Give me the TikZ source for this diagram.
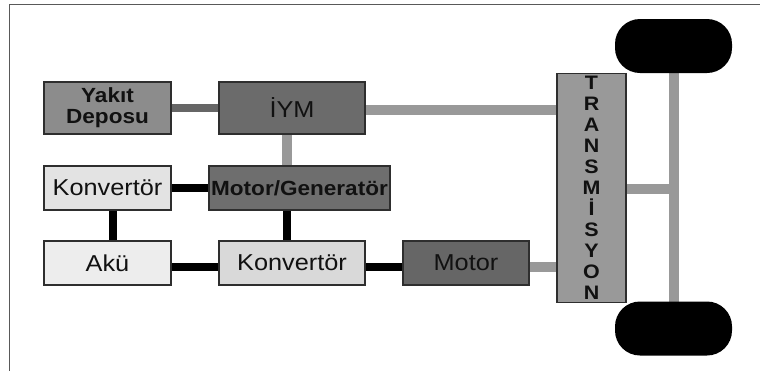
\documentclass[tikz,border=0pt]{standalone}
\usepackage{fontspec}
\setmainfont{Liberation Sans}[FakeStretch=1.1]
\usetikzlibrary{backgrounds}
\definecolor{lblk}{HTML}{111111}
\definecolor{edge}{HTML}{2E2E2E}
\definecolor{shaftgray}{HTML}{999999}
\definecolor{feedgray}{HTML}{666666}
\tikzset{
  unit/.style={draw=edge, line width=1.1pt, rectangle, inner sep=0pt, outer sep=0pt,
    text=lblk, align=center},
  wide/.style={unit, minimum width=146pt, minimum height=52pt},
  narrow/.style={unit, minimum width=127pt, minimum height=52pt},
  low/.style={minimum height=44pt},
  plain/.style={font=\fontsize{23}{26}\selectfont},
  heavy/.style={font=\bfseries\fontsize{20.5}{24}\selectfont},
  mech/.style={draw=shaftgray, line width=9.5pt},
  fuel/.style={draw=feedgray, line width=7.5pt},
  elec/.style={draw=black, line width=7.5pt},
  wheel/.style={fill=black, rounded corners=25pt, minimum width=117pt, minimum height=54pt,
    inner sep=0pt, outer sep=0pt}
}
\begin{document}
\begin{tikzpicture}[x=1pt, y=-1pt]
  \useasboundingbox (0,0) rectangle (760,370);
  % frame
  \draw[draw=black!65, line width=1.5pt] (9.5,372) -- (9.5,4.7) -- (762,4.7);

  % units
  \node[narrow, fill=black!45, heavy, text width=120pt] (tank) at (107.5,108) {Yakıt\\[-3pt]Deposu};
  \node[wide, fill=black!58, plain] (ice) at (292,108) {İYM};
  \node[narrow, low, fill=black!11, plain] (conv1) at (107.5,188) {Konvertör};
  \node[unit, minimum width=181pt, minimum height=44pt, fill=black!57, heavy] (mg) at (299.5,188) {Motor/Generatör};
  \node[narrow, low, fill=black!7, plain] (bat) at (107.5,263) {Akü};
  \node[wide, low, fill=black!15, plain] (conv2) at (292,263) {Konvertör};
  \node[unit, minimum width=126pt, minimum height=44pt, fill=black!60, plain] (mot) at (466,263) {Motor};
  \node[unit, minimum width=69pt, minimum height=229pt, fill=shaftgray,
        font=\bfseries\fontsize{19.5}{21}\selectfont, text width=30pt] (trans) at (591.5,188)
        {T\\R\\A\\N\\S\\M\\İ\\S\\Y\\O\\N};

  % wheels and axle
  \node[wheel] (w1) at (673.5,46) {};
  \node[wheel] (w2) at (673.5,328.5) {};
  \coordinate (ax) at (674,0);
  \coordinate (ltap) at (287,0);
  \coordinate (btap) at (113,0);
  \coordinate (busy) at (0,267);

  \begin{scope}[on background layer]
    \draw[fuel] (tank.east) -- (ice.west);
    \draw[mech] ([yshift=-2pt]ice.east) -- ([yshift=-2pt]ice.east -| trans.west);
    \draw[mech, line width=10.5pt] (ice.south -| ltap) -- (mg.north -| ltap);
    \draw[elec] (conv1.east) -- (mg.west);
    \draw[elec] (conv1.south -| btap) -- (bat.north -| btap);
    \draw[elec] (mg.south -| ltap) -- (conv2.north -| ltap);
    \draw[elec] (bat.east |- busy) -- (conv2.west |- busy);
    \draw[elec] (conv2.east |- busy) -- (mot.west |- busy);
    \draw[mech] (mot.east |- busy) -- (trans.west |- busy);
    \draw[mech, line width=10pt] (w1.south -| ax) -- (w2.north -| ax);
    \draw[mech, line width=10pt] ([yshift=-0.5pt]trans.east) -- ([yshift=-0.5pt]trans.east -| ax);
  \end{scope}
\end{tikzpicture}
\end{document}
